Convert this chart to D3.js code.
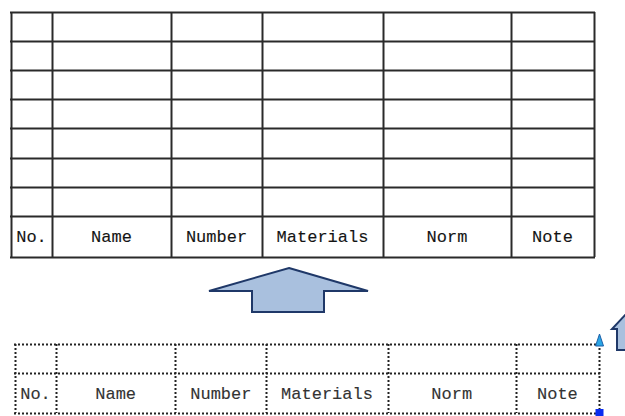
<!DOCTYPE html>
<html>
<head>
<meta charset="utf-8">
<script src="https://cdn.jsdelivr.net/npm/d3@7"></script>
<style>
  html, body { margin: 0; padding: 0; background: #fff; }
  svg { display: block; }
</style>
</head>
<body>
<div id="chart"></div>
<script>
// ---- data ----
const headers = ["No.", "Name", "Number", "Materials", "Norm", "Note"];
const columnUnits = [41, 119, 91, 121, 128, 83];          // relative column widths
const topRowUnits = [29, 29, 29, 29, 29, 29, 29, 41];     // 7 empty rows + header row
const bottomRowUnits = [29, 40];                          // 1 empty row + header row

const W = 625, H = 416;
const svg = d3.select("#chart").append("svg")
  .attr("width", W).attr("height", H)
  .style("background", "#fff");

const font = "'Liberation Mono', 'Courier New', monospace";

function drawTable(g, xRange, yRange, rowUnits, style) {
  const colEdges = [0, ...d3.cumsum(columnUnits)];
  const rowEdges = [0, ...d3.cumsum(rowUnits)];
  const x = d3.scaleLinear().domain([0, colEdges[colEdges.length - 1]]).range(xRange);
  const y = d3.scaleLinear().domain([0, rowEdges[rowEdges.length - 1]]).range(yRange);

  g.selectAll("line.h").data(rowEdges).join("line")
    .attr("class", "h")
    .attr("x1", x(0) - style.width / 2).attr("x2", x(colEdges[colEdges.length - 1]) + style.width / 2)
    .attr("y1", d => Math.round(y(d)) + 0.5).attr("y2", d => Math.round(y(d)) + 0.5)
    .attr("stroke", style.stroke).attr("stroke-width", style.width)
    .attr("stroke-dasharray", style.dash);
  g.selectAll("line.v").data(colEdges).join("line")
    .attr("class", "v")
    .attr("x1", d => Math.round(x(d)) + 0.5).attr("x2", d => Math.round(x(d)) + 0.5)
    .attr("y1", y(0)).attr("y2", y(rowEdges[rowEdges.length - 1]))
    .attr("stroke", style.stroke).attr("stroke-width", style.width)
    .attr("stroke-dasharray", style.dash);

  const r0 = rowEdges[rowEdges.length - 2], r1 = rowEdges[rowEdges.length - 1];
  g.selectAll("text").data(headers).join("text")
    .attr("x", (d, i) => (x(colEdges[i]) + x(colEdges[i + 1])) / 2)
    .attr("y", (y(r0) + y(r1)) / 2 + style.textDy)
    .attr("text-anchor", "middle")
    .attr("font-family", font)
    .attr("font-size", style.fontSize)
    .attr("fill", style.textFill)
    .attr("stroke", style.textFill)
    .attr("stroke-width", 0.12)
    .text(d => d);
  return { x, y };
}

// top table (solid)
drawTable(svg.append("g"), [11, 594], [12, 257], topRowUnits,
  { stroke: "#2a2a2a", width: 2, dash: null, fontSize: 17, textDy: 6, textFill: "#141414" });

// bottom table (dotted)
const bt = drawTable(svg.append("g"), [15, 599], [344, 413], bottomRowUnits,
  { stroke: "#222", width: 2, dash: "2,2", fontSize: 17, textDy: 6, textFill: "#333" });

// big up arrow between tables
const arrowPts = [[289, 268], [368, 291], [324, 291], [324, 312], [252, 312], [252, 291], [209, 291]];
svg.append("path")
  .attr("d", d3.line()(arrowPts) + "Z")
  .attr("fill", "#a9c0de")
  .attr("stroke", "#1f3868")
  .attr("stroke-width", 2)
  .attr("stroke-linejoin", "miter");

// small partial up arrow at right edge
const smallPts = [[627, 313], [642, 329], [637, 329], [637, 350], [617, 350], [617, 329], [612, 329]];
svg.append("path")
  .attr("d", d3.line()(smallPts) + "Z")
  .attr("fill", "#a9c0de")
  .attr("stroke", "#1f3868")
  .attr("stroke-width", 2);

// selection grips on bottom table
const gx = Math.round(bt.x(d3.sum(columnUnits))) + 0.5;
svg.append("path")
  .attr("d", d3.line()([[gx, 334], [gx + 4, 346], [gx - 4, 346]]) + "Z")
  .attr("fill", "#2aa6e6")
  .attr("stroke", "#1b5fa8")
  .attr("stroke-width", 1);
svg.append("rect")
  .attr("x", gx - 4).attr("y", 409)
  .attr("width", 8).attr("height", 8)
  .attr("fill", "#0a2cf0");
</script>
</body>
</html>
